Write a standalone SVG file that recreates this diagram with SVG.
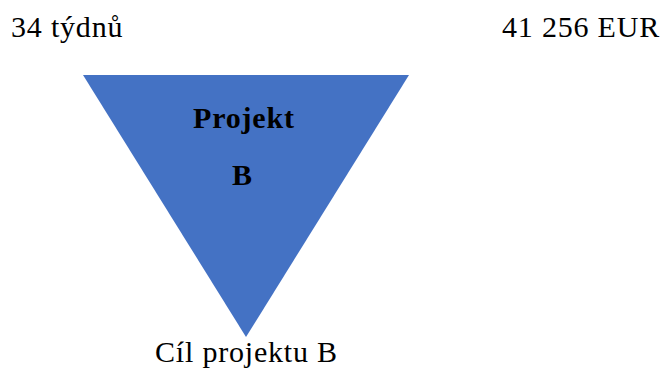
<svg xmlns="http://www.w3.org/2000/svg" width="664" height="376" viewBox="0 0 664 376">
<style>
.t{font-family:"Liberation Serif","Times New Roman",serif;font-size:30px;fill:#000;letter-spacing:0.8px}
.b{font-weight:bold}
</style>
<rect width="664" height="376" fill="#fff"/>
<g id="weeks"><text class="t" x="11" y="37">34 týdnů</text></g>
<g id="cost"><text class="t" x="502" y="37">41 256 EUR</text></g>
<g id="projectB">
<polygon points="83,75 409,75 246,337" fill="#4472C4"/>
<text class="t b" x="193" y="128">Projekt</text>
<text class="t b" x="232" y="185">B</text>
</g>
<g id="goal"><text class="t" x="155" y="362">Cíl projektu B</text></g>
<g id="connectors"/>
</svg>
